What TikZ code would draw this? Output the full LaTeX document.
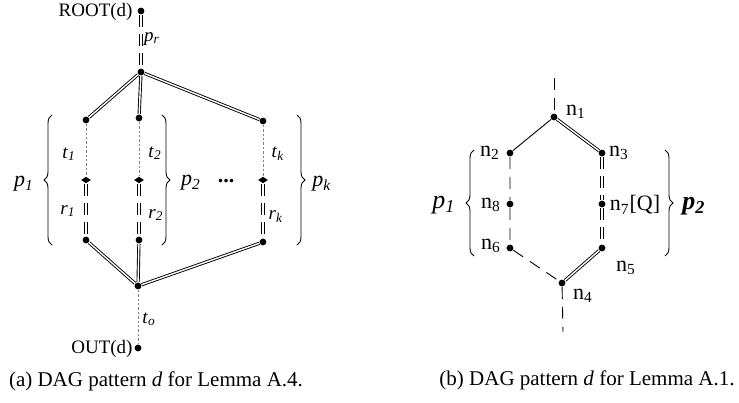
\documentclass[tikz,border=0pt]{standalone}
\usepackage{fontspec}
\setmainfont{Liberation Serif}
\usetikzlibrary{decorations.pathreplacing,shapes.geometric}
\newcommand{\lab}[2]{\textit{#1}\textsubscript{\textit{#2}}}
\newcommand{\nlab}[1]{n\textsubscript{#1}}

\begin{document}
\begin{tikzpicture}
      [x=0.5pt, y=-0.5pt, line width=0.45pt,
       vtx/.style={circle, fill, inner sep=0pt, minimum size=3.4pt},
       joint/.style={diamond, fill, inner sep=0pt, minimum width=5pt, minimum height=3.4pt},
       dbl/.style={double, double distance=0.7pt},
       ddash/.style={dbl, dash pattern=on 6pt off 3.5pt},
       sdash/.style={dash pattern=on 6pt off 4pt},
       tline/.style={gray, dash pattern=on 1.2pt off 1pt, line width=0.4pt},
       brc/.style={decorate, decoration={brace, amplitude=4pt}},
       lbl/.style={font=\fontsize{9.5}{11}\selectfont, inner sep=0pt},
       nlbl/.style={font=\fontsize{11}{13}\selectfont, inner sep=0pt},
       captext/.style={font=\fontsize{10.5}{12}\selectfont, inner sep=0pt}]
      \useasboundingbox (0,0) rectangle (739,402);

      % (a) the pattern for Lemma A.4
      \node[vtx] (root) at (141,11) {};
      \node[vtx] (top) at (141,72) {};
      \node[vtx] (bot) at (138,286) {};
      \node[vtx] (out) at (138,348) {};
      \foreach \i/\x/\ya/\yb in {1/86/120/240, 2/139/118/240, k/263/121/242} {
        \node[vtx] (a\i) at (\x,\ya) {};
        \node[joint] (j\i) at (\x,180) {};
        \node[vtx] (b\i) at (\x,\yb) {};
        \draw[dbl] (top) -- (a\i);
        \draw[tline] (a\i) -- (j\i);
        \draw[ddash] (j\i) -- (b\i);
        \draw[dbl] (b\i) -- (bot);
      }
      \draw[ddash] (root) -- (top);
      \draw[tline] (bot) -- (out);

      \node[lbl, anchor=east] (rootl) at (133,12) {ROOT(d)};
      \node[lbl, anchor=east] (outl) at (133,349) {OUT(d)};
      \node[lbl] (pr) at (152,39) {\lab{p}{r}};
      \node[lbl] (to) at (149,319) {\lab{t}{o}};
      \node[lbl] (t1) at (69,154) {\lab{t}{1}};
      \node[lbl] (t2) at (155,153) {\lab{t}{2}};
      \node[lbl] (tk) at (278,154) {\lab{t}{k}};
      \node[lbl] (r1) at (68,211) {\lab{r}{1}};
      \node[lbl] (r2) at (156,215) {\lab{r}{2}};
      \node[lbl] (rk) at (276,217) {\lab{r}{k}};

      \draw[brc] (52,245) -- (52,115);
      \draw[brc] (162,115) -- (162,245);
      \draw[brc] (297,115) -- (297,245);
      \node[lbl, font=\fontsize{11}{13}\selectfont] (p1) at (24,184) {\lab{p}{1}};
      \node[lbl, font=\fontsize{11}{13}\selectfont] (p2) at (191,183) {\lab{p}{2}};
      \node[lbl, font=\fontsize{11}{13}\selectfont\bfseries] (pdots) at (226,181) {...};
      \node[lbl, font=\fontsize{11}{13}\selectfont] (pk) at (322,184) {\lab{p}{k}};

      \node[captext] (capa) at (156,381) {(a) DAG pattern \textit{d} for Lemma A.4.};

      % (b) the pattern for Lemma A.1
      \coordinate (in) at (554,78);
      \node[vtx] (n1) at (554,117) {};
      \node[vtx] (n2) at (510,153) {};
      \node[vtx] (n3) at (602,153) {};
      \node[vtx] (n8) at (510,204) {};
      \node[vtx] (n7) at (602,204) {};
      \node[vtx] (n6) at (510,248) {};
      \node[vtx] (n5) at (602,248) {};
      \node[vtx] (n4) at (562,283) {};
      \coordinate (down) at (563,332);

      \draw[sdash] (in) -- (n1);
      \draw (n1) -- (n2);
      \draw[dbl] (n1) -- (n3);
      \draw[sdash] (n2) -- (n8) -- (n6) -- (n4) -- (down);
      \draw[ddash] (n3) -- (n7);
      \draw[ddash] (n7) -- (n5);
      \draw[dbl] (n5) -- (n4);

      \node[nlbl] (l1) at (576,112) {\nlab{1}};
      \node[nlbl] (l2) at (490,153) {\nlab{2}};
      \node[nlbl] (l3) at (619,153) {\nlab{3}};
      \node[nlbl] (l8) at (491,205) {\nlab{8}};
      \node[nlbl] (l7) at (635,205) {\nlab{7}[Q]};
      \node[nlbl] (l6) at (491,246) {\nlab{6}};
      \node[nlbl] (l5) at (626,268) {\nlab{5}};
      \node[nlbl] (l4) at (583,296) {\nlab{4}};

      \draw[brc] (474,256) -- (474,150);
      \draw[brc] (665,150) -- (665,256);
      \node[nlbl, font=\fontsize{13}{15}\selectfont] (q1) at (444,205) {\lab{p}{1}};
      \node[nlbl, font=\fontsize{13}{15}\selectfont\bfseries] (q2) at (694,206) {\lab{p}{2}};

      \node[captext] (capb) at (587,380) {(b) DAG pattern \textit{d} for Lemma A.1.};
\end{tikzpicture}
\end{document}
